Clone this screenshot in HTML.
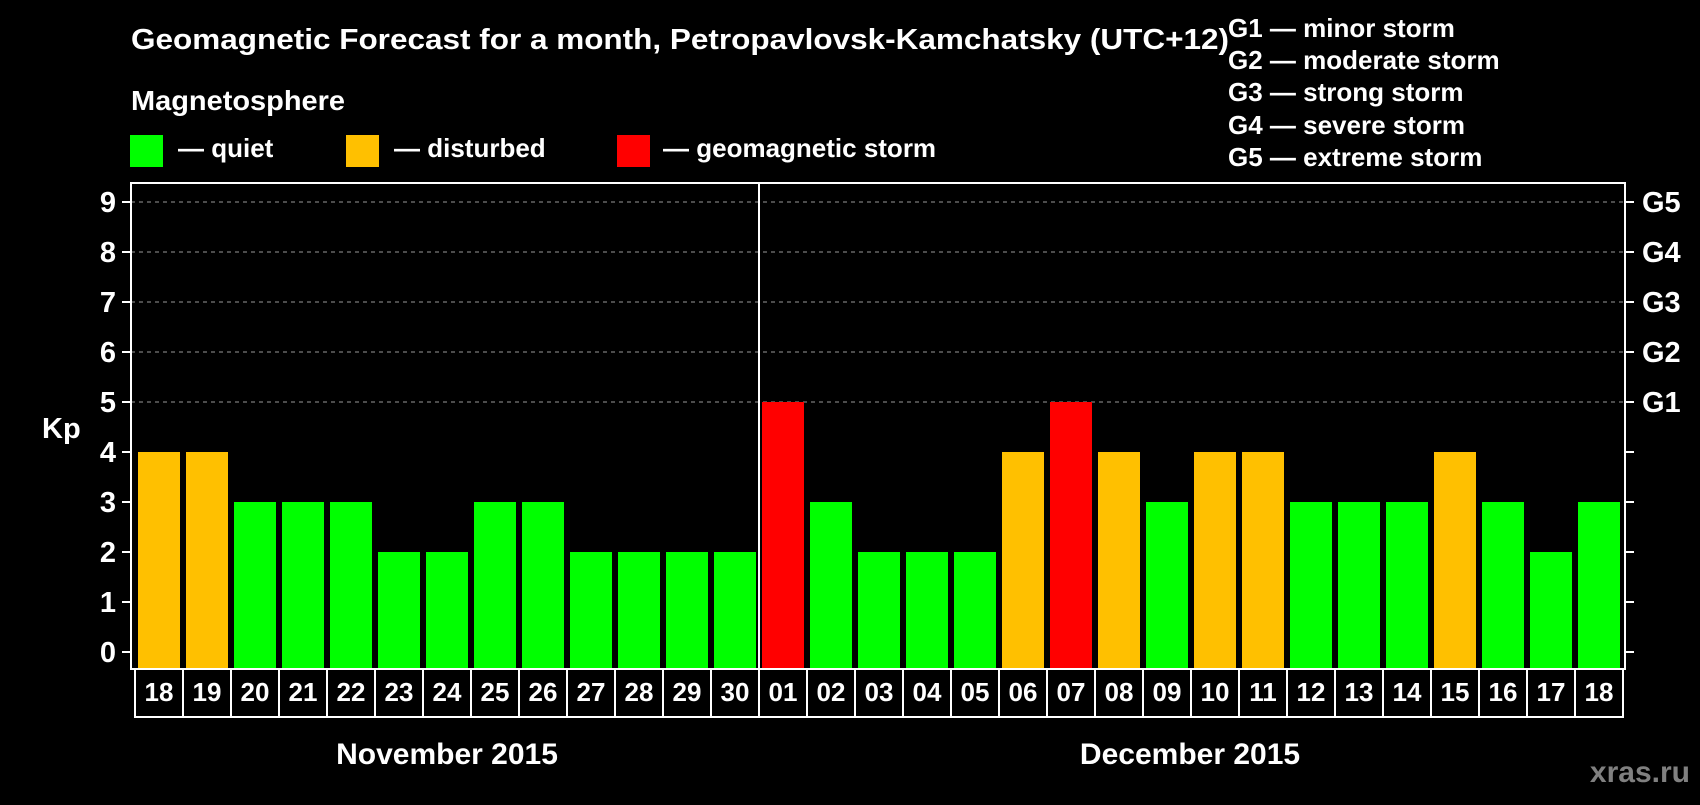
<!DOCTYPE html>
<html><head><meta charset="utf-8"><style>
body{margin:0;background:#000;width:1700px;height:800px;overflow:hidden;font-family:"Liberation Sans",Arial,sans-serif;}
svg text{font-family:"Liberation Sans",Arial,sans-serif;font-weight:bold;fill:#fff;}
</style></head><body>
<svg width="1700" height="800" xmlns="http://www.w3.org/2000/svg">
<text x="131" y="49" font-size="29" textLength="1098" lengthAdjust="spacingAndGlyphs">Geomagnetic Forecast for a month, Petropavlovsk-Kamchatsky (UTC+12)</text>
<g font-size="26">
<text x="1228" y="37">G1 — minor storm</text>
<text x="1228" y="69">G2 — moderate storm</text>
<text x="1228" y="101">G3 — strong storm</text>
<text x="1228" y="134">G4 — severe storm</text>
<text x="1228" y="166">G5 — extreme storm</text>
</g>
<text x="131" y="110" font-size="28" textLength="214" lengthAdjust="spacingAndGlyphs">Magnetosphere</text>
<g font-size="26">
<rect x="130" y="135" width="33" height="32" fill="#00ff00"/>
<text x="178" y="157">— quiet</text>
<rect x="346" y="135" width="33" height="32" fill="#ffc000"/>
<text x="394" y="157">— disturbed</text>
<rect x="617" y="135" width="33" height="32" fill="#ff0000"/>
<text x="663" y="157">— geomagnetic storm</text>
</g>
<text x="42" y="438" font-size="29">Kp</text>
<g id="plot"></g>
<text x="447" y="764" font-size="30" text-anchor="middle">November 2015</text>
<text x="1190" y="764" font-size="30" text-anchor="middle">December 2015</text>
<text x="1690" y="782" font-size="30" text-anchor="end" style="fill:#808080">xras.ru</text>
</svg>
<script>
const days=["18","19","20","21","22","23","24","25","26","27","28","29","30","01","02","03","04","05","06","07","08","09","10","11","12","13","14","15","16","17","18"];
const kp=[4,4,3,3,3,2,2,3,3,2,2,2,2,5,3,2,2,2,4,5,4,3,4,4,3,3,3,4,3,2,3];
const yTicks=[0,1,2,3,4,5,6,7,8,9];
const gLabels=["G1","G2","G3","G4","G5"];
const gLevels=[5,6,7,8,9];
const NS="http://www.w3.org/2000/svg";
const g=document.getElementById('plot');
const L=131,R=1625,T=183,B=669;
const y=v=>652-v*50;
const x=i=>138+i*48;
function mk(t,a){const e=document.createElementNS(NS,t);for(const k in a)e.setAttribute(k,a[k]);g.appendChild(e);return e;}
yTicks.forEach(v=>{
 if(v>=5){const l=mk('line',{x1:L,x2:R,y1:y(v),y2:y(v),stroke:'#999','stroke-dasharray':'4,4','stroke-width':1});
 
 }
 mk('line',{x1:L-9,x2:L,y1:y(v),y2:y(v),stroke:'#fff','stroke-width':2});
 mk('line',{x1:R,x2:R+9,y1:y(v),y2:y(v),stroke:'#fff','stroke-width':2});
 const t=mk('text',{x:116,y:y(v)+10,'font-size':29,'text-anchor':'end'});t.textContent=v;
 
 
});
gLabels.forEach((s,i)=>{const t=mk('text',{x:1642,y:y(gLevels[i])+10,'font-size':29});t.textContent=s;
 
 });
kp.forEach((v,i)=>{
 const c=v>=5?'#ff0000':v>=4?'#ffc000':'#00ff00';
 const r=mk('rect',{x:x(i),y:y(v),width:42,height:B-y(v),fill:c});
 
 
 const b=mk('rect',{x:135+i*48,y:B,width:48,height:48,fill:'none',stroke:'#fff','stroke-width':2});
 
 
 const t=mk('text',{x:159+i*48,y:701,'font-size':26,'text-anchor':'middle'});t.textContent=days[i];
 
 
});
const f=mk('rect',{x:L,y:T,width:R-L,height:B-T,fill:'none',stroke:'#fff','stroke-width':2});


const d=mk('line',{x1:759,x2:759,y1:T,y2:B,stroke:'#fff','stroke-width':2});


</script>
</body></html>
